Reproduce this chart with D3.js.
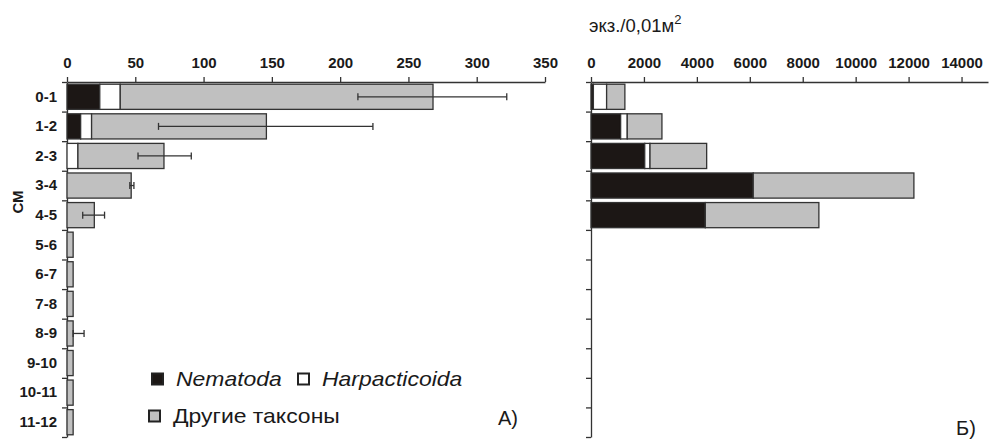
<!DOCTYPE html>
<html>
<head>
<meta charset="utf-8">
<script src="https://cdn.jsdelivr.net/npm/d3@7"></script>
<style>
  body { margin: 0; background: #fff; }
  text { font-family: "Liberation Sans", Arial, sans-serif; fill: #1a1a1a; }
  .tick text { font-weight: bold; font-size: 15px; }
  .domain, .tick line { stroke: #333; stroke-width: 1.3; }
</style>
</head>
<body>
<div id="chart"></div>
<script>
const categories = ["0-1", "1-2", "2-3", "3-4", "4-5", "5-6", "6-7", "7-8", "8-9", "9-10", "10-11", "11-12"];
const series = ["Nematoda", "Harpacticoida", "Другие таксоны"];

// A) left panel, экз./0,01м2
const nematodaA = [24, 10, 0, 0, 0, 0, 0, 0, 0, 0, 0, 0];
const harpA = [15, 8, 8, 0, 0, 0, 0, 0, 0, 0, 0, 0];
const othersA = [229, 128, 63, 47, 20, 4.5, 4.5, 4.5, 4.5, 4.5, 4.5, 4.5];
const errLoA = [213, 67, 52, 46, 11.5, null, null, null, 4.5, null, null, null];
const errHiA = [322, 224, 91, 49, 27.5, null, null, null, 12.5, null, null, null];
const ticksA = [0, 50, 100, 150, 200, 250, 300, 350];

// Б) right panel
const nematodaB = [90, 1120, 2030, 6130, 4320, 0, 0, 0, 0, 0, 0, 0];
const harpB = [500, 250, 200, 0, 0, 0, 0, 0, 0, 0, 0, 0];
const othersB = [690, 1310, 2140, 6070, 4290, 0, 0, 0, 0, 0, 0, 0];
const ticksB = [0, 2000, 4000, 6000, 8000, 10000, 12000, 14000];

(function chart() {
  const width = 993,
    height = 439,
    top = 82,
    bottom = 437;

  const color = d3.scaleOrdinal(series, ["#1c1715", "#ffffff", "#c0c0c0"]);

  const svg = d3.select("#chart")
    .append("svg")
    .attr("width", width)
    .attr("height", height);

  let y = d3.scaleBand(categories, [top, bottom])
    .paddingInner(0.15)
    .paddingOuter(0.075);

  let yRows = d3.scaleLinear([0, categories.length], [top, bottom]);

  const toRows = (a, b, c) => categories.map((cat, i) => ({
    cat: cat, "Nematoda": a[i], "Harpacticoida": b[i], "Другие таксоны": c[i]
  }));

  function panel(x, rows, ticks, errLo, errHi) {
    const g = svg.append("g");

    g.append("g")
      .attr("transform", `translate(0,${top})`)
      .call(d3.axisTop(x).tickValues(ticks).tickFormat(d3.format("d"))
        .tickSize(5).tickSizeOuter(0).tickPadding(9));

    g.append("g")
      .attr("transform", `translate(${x.range()[0]},0)`)
      .call(d3.axisLeft(yRows).ticks(categories.length).tickSize(5).tickSizeOuter(0).tickFormat(""));

    const stacked = d3.stack().keys(series)(rows);

    g.append("g")
      .selectAll("g")
      .data(stacked)
      .join("g")
      .attr("fill", d => color(d.key))
      .selectAll("rect")
      .data(d => d.filter(v => v[1] > v[0]))
      .join("rect")
      .attr("x", d => x(d[0]))
      .attr("y", d => y(d.data.cat))
      .attr("width", d => x(d[1]) - x(d[0]))
      .attr("height", y.bandwidth())
      .attr("stroke", "#333")
      .attr("stroke-width", 1.3);

    if (!errLo) return g;

    const errs = categories.map((c, i) => ({cat: c, lo: errLo[i], hi: errHi[i]}))
      .filter(d => d.lo != null);

    const eg = g.append("g")
      .attr("stroke", "#333")
      .attr("stroke-width", 1.3);

    eg.selectAll(".err")
      .data(errs)
      .join("line")
      .attr("x1", d => x(d.lo))
      .attr("x2", d => x(d.hi))
      .attr("y1", d => y(d.cat) + y.bandwidth() / 2)
      .attr("y2", d => y(d.cat) + y.bandwidth() / 2);

    eg.selectAll(".cap")
      .data(errs.flatMap(d => [{cat: d.cat, v: d.lo}, {cat: d.cat, v: d.hi}]))
      .join("line")
      .attr("x1", d => x(d.v))
      .attr("x2", d => x(d.v))
      .attr("y1", d => y(d.cat) + y.bandwidth() / 2 - 3.5)
      .attr("y2", d => y(d.cat) + y.bandwidth() / 2 + 3.5);

    return g;
  }

  let xA = d3.scaleLinear([0, 350], [67, 545]);
  let xB = d3.scaleLinear([0, 15000], [591, 988]);

  panel(xA, toRows(nematodaA, harpA, othersA), ticksA, errLoA, errHiA);
  panel(xB, toRows(nematodaB, harpB, othersB), ticksB);

  // category labels on the left
  svg.append("g")
    .attr("transform", `translate(${xA.range()[0]},0)`)
    .call(d3.axisLeft(y).tickSize(0).tickPadding(10))
    .call(g => g.select(".domain").remove());

  svg.append("text")
    .attr("transform", "translate(23,202) rotate(-90)")
    .attr("text-anchor", "middle")
    .attr("font-weight", "bold")
    .attr("font-size", 15)
    .text("СМ");

  let title = svg.append("text")
    .attr("x", 589)
    .attr("y", 32)
    .attr("font-size", 18.5)
    .text("экз./0,01м");
  title.append("tspan")
    .attr("dy", -8)
    .attr("font-size", 13)
    .text("2");

  // legend
  const legend = [
    {key: "Nematoda", x: 152, y: 379, italic: true},
    {key: "Harpacticoida", x: 298, y: 379, italic: true},
    {key: "Другие таксоны", x: 149, y: 416, italic: false}
  ];

  let legendGroup = svg.selectAll(".legend-group")
    .data(legend)
    .join("g")
    .attr("class", "legend-group");

  legendGroup.append("rect")
    .attr("x", d => d.x)
    .attr("y", d => d.y - 5.5)
    .attr("width", 11)
    .attr("height", 11)
    .attr("fill", d => color(d.key))
    .attr("stroke", "#222")
    .attr("stroke-width", 2);

  legendGroup.append("text")
    .attr("transform", d => `translate(${d.x + 24},${d.y + 7}) scale(1.12,1)`)
    .attr("font-size", 20.5)
    .attr("font-style", d => d.italic ? "italic" : "normal")
    .text(d => d.key);

  svg.append("text")
    .attr("x", 498)
    .attr("y", 425)
    .attr("font-size", 20)
    .text("А)");

  svg.append("text")
    .attr("x", 956)
    .attr("y", 435)
    .attr("font-size", 20)
    .text("Б)");
})();
</script>
</body>
</html>
